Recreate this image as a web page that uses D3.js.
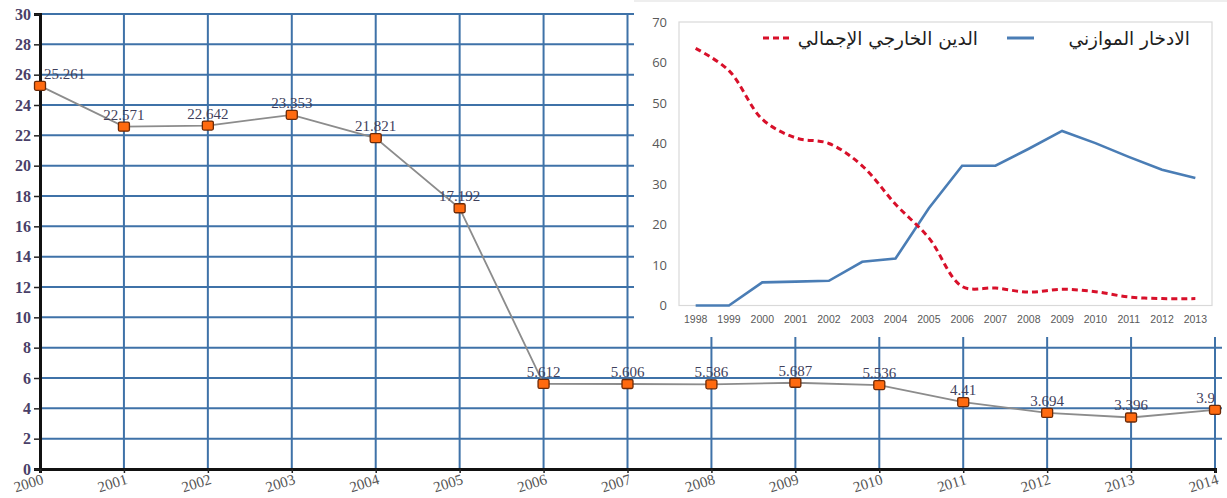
<!DOCTYPE html>
<html>
<head>
<meta charset="utf-8">
<script src="https://cdn.jsdelivr.net/npm/d3@7/dist/d3.min.js"></script>
<style>
  html, body { margin: 0; padding: 0; background: #fff; }
  svg { display: block; }
</style>
</head>
<body>
<svg id="chart" width="1227" height="498"></svg>
<script>
// Main series: ratio by year, 2000–2014
const years = [2000, 2001, 2002, 2003, 2004, 2005, 2006, 2007, 2008, 2009, 2010, 2011, 2012, 2013, 2014];
const ratio = [25.261, 22.571, 22.642, 23.353, 21.821, 17.192, 5.612, 5.606, 5.586, 5.687, 5.536, 4.41, 3.694, 3.396, 3.9];
const yTicks = [0, 2, 4, 6, 8, 10, 12, 14, 16, 18, 20, 22, 24, 26, 28, 30];

// Inset series, 1998–2013
const insetYears = ["1998", "1999", "2000", "2001", "2002", "2003", "2004", "2005", "2006", "2007", "2008", "2009", "2010", "2011", "2012", "2013"];
const externalDebt = [63.5, 58, 46, 41.4, 40, 34.5, 25, 16.7, 4.7, 4.3, 3.3, 4.0, 3.4, 2.1, 1.7, 1.7];
const budgetSavings = [0, 0, 5.7, 5.9, 6.1, 10.8, 11.6, 24, 34.5, 34.5, 38.7, 43.1, 40.1, 36.7, 33.5, 31.5];
const insetTicks = [0, 10, 20, 30, 40, 50, 60, 70];
const legendDebt = "الدين الخارجي الإجمالي";
const legendSavings = "الادخار الموازني";

const svg = d3.select("#chart");
const gridColor = "#3f72a8";

// ---------- main chart ----------
const x = d3.scaleLinear().domain([2000, 2014]).range([40, 1215]);
const y = d3.scaleLinear().domain([0, 30]).range([469, 14]);

const main = svg.append("g");

// horizontal grid
main.append("g").selectAll("line").data(yTicks.filter(d => d > 0)).join("line")
  .attr("x1", x(2000)).attr("x2", 1222)
  .attr("y1", d => y(d)).attr("y2", d => y(d))
  .attr("stroke", gridColor).attr("stroke-width", 2);

// vertical grid
main.append("g").selectAll("line").data(years.slice(1)).join("line")
  .attr("x1", d => x(d)).attr("x2", d => x(d))
  .attr("y1", y(30)).attr("y2", y(0))
  .attr("stroke", gridColor).attr("stroke-width", 2);

// y axis
const yAxis = d3.axisLeft(y).tickValues(yTicks).tickSize(6).tickPadding(3);
const yg = main.append("g").attr("transform", `translate(${x(2000)},0)`).call(yAxis);
yg.select(".domain").attr("stroke", "#111").attr("stroke-width", 3);
yg.selectAll(".tick line").attr("stroke", "#222").attr("stroke-width", 1.5);
yg.selectAll(".tick text")
  .attr("font-family", "'Liberation Serif', serif").attr("font-size", 16)
  .attr("font-weight", "bold").attr("fill", "#4a3f68");

// x axis
const xAxis = d3.axisBottom(x).tickValues(years).tickFormat(d3.format("d")).tickSize(4);
const xg = main.append("g").attr("transform", `translate(0,${y(0)})`).call(xAxis);
xg.select(".domain").attr("stroke", "#111").attr("stroke-width", 3);
xg.selectAll(".tick line").attr("stroke", "#222").attr("stroke-width", 1.5);
xg.selectAll(".tick text")
  .attr("font-family", "'Liberation Serif', serif").attr("font-size", 15)
  .attr("fill", "#555").attr("text-anchor", "middle")
  .attr("y", 0).attr("dy", "0.35em")
  .attr("transform", "translate(-12,14) rotate(-17)");

// series line
const pts = years.map((yr, i) => ({ yr, v: ratio[i] }));
main.append("path").datum(pts)
  .attr("fill", "none").attr("stroke", "#8c8c8c").attr("stroke-width", 1.8)
  .attr("d", d3.line().x(d => x(d.yr)).y(d => y(d.v)));

// markers
main.append("g").selectAll("rect").data(pts).join("rect")
  .attr("x", d => x(d.yr) - 5.5).attr("y", d => y(d.v) - 4.5)
  .attr("width", 11).attr("height", 9).attr("rx", 1.5)
  .attr("fill", "#ff6a10").attr("stroke", "#6b2a08").attr("stroke-width", 1.3);

// value labels
main.append("g").selectAll("text").data(pts).join("text")
  .attr("x", (d, i) => i === 0 ? x(d.yr) + 4 : x(d.yr))
  .attr("y", d => y(d.v) - 7)
  .attr("text-anchor", (d, i) => i === 0 ? "start" : (i === pts.length - 1 ? "end" : "middle"))
  .attr("font-family", "'Liberation Serif', serif").attr("font-size", 15)
  .attr("fill", "#3f3f5c")
  .text(d => String(d.v));

// ---------- inset chart ----------
const inset = svg.append("g");
inset.append("rect").attr("x", 634).attr("y", 0).attr("width", 593).attr("height", 337)
  .attr("fill", "#fff");
inset.append("line").attr("x1", 634).attr("x2", 1227).attr("y1", 1).attr("y2", 1)
  .attr("stroke", "#eeeeee").attr("stroke-width", 2);

const xi = d3.scaleBand().domain(insetYears).range([679, 1212]);
const yi = d3.scaleLinear().domain([0, 70]).range([305.5, 22]);

inset.append("rect").attr("x", 679).attr("y", 22).attr("width", 1212 - 679).attr("height", 305.5 - 22)
  .attr("fill", "none").attr("stroke", "#d9d9d9").attr("stroke-width", 1.2);

const yiAxis = d3.axisLeft(yi).tickValues(insetTicks).tickSize(0).tickPadding(12);
const yig = inset.append("g").attr("transform", "translate(679,0)").call(yiAxis);
yig.select(".domain").remove();
yig.selectAll(".tick text").attr("font-family", "'Open Sans', sans-serif")
  .attr("font-size", 13).attr("fill", "#595959");

const xiAxis = d3.axisBottom(xi).tickSize(0).tickPadding(10);
const xig = inset.append("g").attr("transform", "translate(0,305.5)").call(xiAxis);
xig.select(".domain").remove();
xig.selectAll(".tick text").attr("font-family", "'Liberation Sans', sans-serif")
  .attr("font-size", 10.5).attr("fill", "#595959");

const cx = d => xi(d) + xi.bandwidth() / 2;

const debtPts = insetYears.map((yr, i) => ({ yr, v: externalDebt[i] }));
const savPts = insetYears.map((yr, i) => ({ yr, v: budgetSavings[i] }));

inset.append("path").datum(savPts)
  .attr("fill", "none").attr("stroke", "#4a7db5").attr("stroke-width", 2.6)
  .attr("d", d3.line().x(d => cx(d.yr)).y(d => yi(d.v)));

inset.append("path").datum(debtPts)
  .attr("fill", "none").attr("stroke", "#d8102a").attr("stroke-width", 3)
  .attr("stroke-dasharray", "6,4")
  .attr("d", d3.line().curve(d3.curveCatmullRom.alpha(0.5)).x(d => cx(d.yr)).y(d => yi(d.v)));

// legend
const legend = inset.append("g");
legend.append("line").attr("x1", 763).attr("x2", 789).attr("y1", 38).attr("y2", 38)
  .attr("stroke", "#d8102a").attr("stroke-width", 3).attr("stroke-dasharray", "6,4");
legend.append("text").attr("x", 978).attr("y", 45).attr("direction", "rtl").attr("text-anchor", "start")
  .attr("font-family", "'DejaVu Sans', sans-serif").attr("font-size", 18.5).attr("fill", "#1e1e1e")
  .text(legendDebt);
legend.append("line").attr("x1", 1007).attr("x2", 1034).attr("y1", 38).attr("y2", 38)
  .attr("stroke", "#4a7db5").attr("stroke-width", 3);
legend.append("text").attr("x", 1190).attr("y", 45).attr("direction", "rtl").attr("text-anchor", "start")
  .attr("font-family", "'DejaVu Sans', sans-serif").attr("font-size", 18.5).attr("fill", "#1e1e1e")
  .text(legendSavings);
</script>
</body>
</html>
